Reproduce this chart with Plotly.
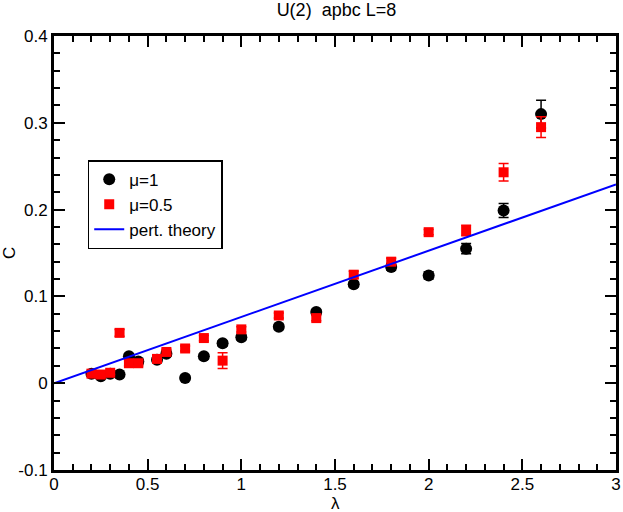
import plotly.graph_objects as go

# data
lam_mu1 = [0.2, 0.25, 0.3, 0.35, 0.4, 0.45, 0.55, 0.6, 0.7, 0.8,
           0.9, 1.0, 1.2, 1.4, 1.6, 1.8, 2.0, 2.2, 2.4, 2.6]
c_mu1 = [0.011, 0.008, 0.011, 0.010, 0.031, 0.025, 0.027, 0.034, 0.006, 0.031,
         0.046, 0.053, 0.065, 0.082, 0.114, 0.134, 0.124, 0.155, 0.199, 0.310]
err_mu1 = [0.002, 0.002, 0.002, 0.002, 0.003, 0.003, 0.003, 0.003, 0.003, 0.003,
           0.003, 0.003, 0.003, 0.003, 0.003, 0.004, 0.004, 0.006, 0.008, 0.016]

lam_mu05 = [0.2, 0.25, 0.3, 0.35, 0.4, 0.45, 0.55, 0.6, 0.7, 0.8,
            0.9, 1.0, 1.2, 1.4, 1.6, 1.8, 2.0, 2.2, 2.4, 2.6]
c_mu05 = [0.011, 0.010, 0.012, 0.058, 0.023, 0.023, 0.028, 0.036, 0.040, 0.052,
          0.026, 0.062, 0.078, 0.075, 0.125, 0.140, 0.174, 0.176, 0.243, 0.295]
err_mu05 = [0.002, 0.002, 0.002, 0.004, 0.003, 0.003, 0.003, 0.003, 0.003, 0.003,
            0.009, 0.003, 0.003, 0.003, 0.004, 0.004, 0.003, 0.006, 0.010, 0.012]

lam_pt = [0.0, 3.0]
c_pt = [0.0, 0.229]

yticks = [-0.1, 0, 0.1, 0.2, 0.3, 0.4]
ylabels = ["-0.1", "0", "0.1", "0.2", "0.3", "0.4"]

FONT = "Liberation Sans, Arial, sans-serif"

fig = go.Figure()
fig.add_trace(go.Scatter(
    x=lam_mu1, y=c_mu1, mode="markers", name="μ=1",
    marker=dict(symbol="circle", size=12, color="black"),
    error_y=dict(type="data", array=err_mu1, color="black", thickness=1.5, width=5),
))
fig.add_trace(go.Scatter(
    x=lam_mu05, y=c_mu05, mode="markers", name="μ=0.5",
    marker=dict(symbol="square", size=10, color="red"),
    error_y=dict(type="data", array=err_mu05, color="red", thickness=1.5, width=5),
))
fig.add_trace(go.Scatter(
    x=lam_pt, y=c_pt, mode="lines", name="pert. theory",
    line=dict(color="blue", width=2),
))

axis_common = dict(
    showline=True, linecolor="black", linewidth=3, mirror="ticks",
    ticks="inside", ticklen=11, tickwidth=1.5, tickcolor="black",
    showgrid=False, zeroline=False, automargin=False,
    tickfont=dict(family=FONT, size=17, color="black"),
)

fig.update_xaxes(
    range=[0, 3], tickmode="linear", tick0=0, dtick=0.5, ticklabelstandoff=-3,
    minor=dict(dtick=0.1, ticks="inside", ticklen=6, tickwidth=1.5, tickcolor="black"),
    **axis_common,
)
fig.update_yaxes(
    range=[-0.1, 0.4], tickvals=yticks, ticktext=ylabels,
    minor=dict(dtick=0.02, ticks="inside", ticklen=6, tickwidth=1.5, tickcolor="black"),
    **axis_common,
)

fig.add_annotation(text="λ", xref="paper", yref="paper", x=0.5, y=-0.05,
                   xanchor="center", yanchor="top", showarrow=False,
                   font=dict(family=FONT, size=17, color="black"))
fig.add_annotation(text="C", xref="paper", yref="paper", x=-0.08, y=0.5,
                   xanchor="center", yanchor="middle", showarrow=False, textangle=-90,
                   font=dict(family=FONT, size=17, color="black"))

fig.update_layout(
    width=623, height=512,
    margin=dict(l=54, r=7, t=36, b=42),
    paper_bgcolor="white", plot_bgcolor="white",
    title=dict(text="U(2)  apbc L=8", x=0.54, xanchor="center", y=0.993, yanchor="top",
               font=dict(family=FONT, size=18, color="black")),
    showlegend=True,
    legend=dict(
        x=0.06, y=0.714, xanchor="left", yanchor="top",
        bgcolor="white", bordercolor="black", borderwidth=1.5,
        font=dict(family=FONT, size=17, color="black"),
        tracegroupgap=0,
    ),
)

# page has a default 8px body margin; drop it so the figure fills the window
fig.write_html("out.html", config={"displayModeBar": False},
               post_script="document.body.style.margin='0';")
